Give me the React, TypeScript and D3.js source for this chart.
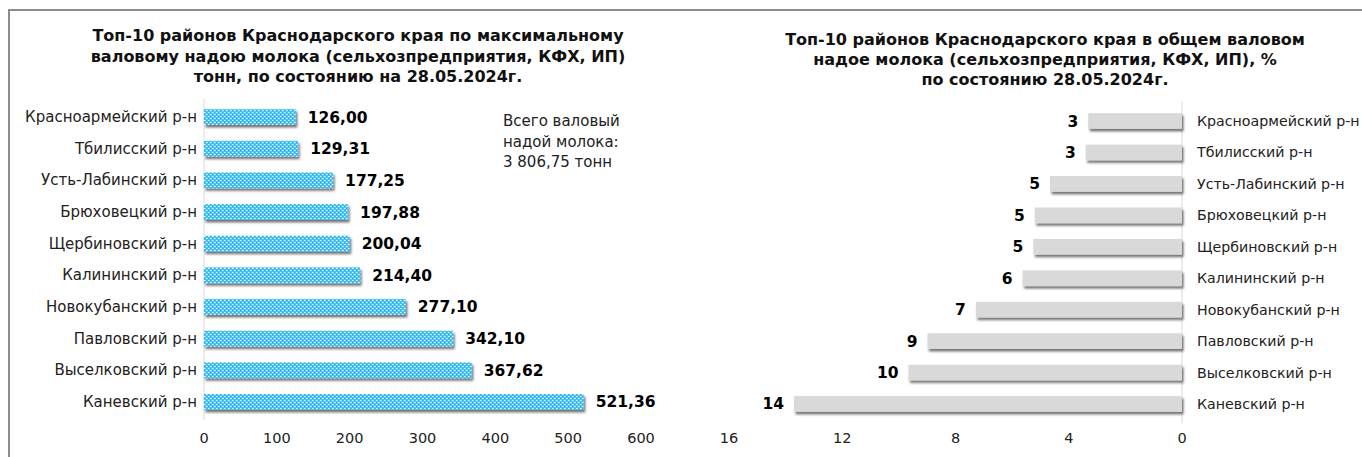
import React, { useEffect, useRef } from "react";
import * as d3 from "d3";

const districts = [
  "Красноармейский р-н",
  "Тбилисский р-н",
  "Усть-Лабинский р-н",
  "Брюховецкий р-н",
  "Щербиновский р-н",
  "Калининский р-н",
  "Новокубанский р-н",
  "Павловский р-н",
  "Выселковский р-н",
  "Каневский р-н",
];
const tons = [126.0, 129.31, 177.25, 197.88, 200.04, 214.4, 277.1, 342.1, 367.62, 521.36];
const shares = [3.31, 3.4, 4.66, 5.2, 5.25, 5.63, 7.28, 8.99, 9.66, 13.7];
const shareLabels = ["3", "3", "5", "5", "5", "6", "7", "9", "10", "14"];
const tonTicks = [0, 100, 200, 300, 400, 500, 600];
const shareTicks = [0, 4, 8, 12, 16];

const leftTitle = [
  "Топ-10 районов Краснодарского края по максимальному",
  "валовому надою молока (сельхозпредприятия, КФХ, ИП)",
  "тонн, по состоянию на 28.05.2024г.",
];
const rightTitle = [
  "Топ-10 районов Краснодарского края в общем валовом",
  "надое молока (сельхозпредприятия, КФХ, ИП), %",
  "по состоянию 28.05.2024г.",
];
const note = ["Всего валовый", "надой молока:", "3 806,75 тонн"];

const FONT = "'DejaVu Sans', Verdana, sans-serif";

export default function App() {
  const ref = useRef<SVGSVGElement>(null);

  useEffect(() => {
    const svg = d3.select(ref.current);
    svg.selectAll("*").remove();
    svg.style("font-family", FONT);

    const defs = svg.append("defs");
    // cross-hatch fill: blue base with white dots in a diamond grid
    const pat = defs.append("pattern")
      .attr("id", "hatch").attr("width", 4).attr("height", 4)
      .attr("patternUnits", "userSpaceOnUse");
    pat.append("rect").attr("width", 4).attr("height", 4).attr("fill", "#46c3f3");
    pat.append("rect").attr("x", 0).attr("y", 0).attr("width", 1).attr("height", 1).attr("fill", "#ffffff");
    pat.append("rect").attr("x", 2).attr("y", 2).attr("width", 1).attr("height", 1).attr("fill", "#ffffff");
    pat.append("rect").attr("x", 1).attr("y", 0).attr("width", 1).attr("height", 1).attr("fill", "#a8e3fa");
    pat.append("rect").attr("x", 3).attr("y", 2).attr("width", 1).attr("height", 1).attr("fill", "#a8e3fa");
    pat.append("rect").attr("x", 2).attr("y", 0).attr("width", 1).attr("height", 1).attr("fill", "#1aaee9");
    pat.append("rect").attr("x", 0).attr("y", 2).attr("width", 1).attr("height", 1).attr("fill", "#1aaee9");

    const flt = defs.append("filter").attr("id", "shadow")
      .attr("x", "-5%").attr("y", "-30%").attr("width", "115%").attr("height", "190%");
    flt.append("feDropShadow").attr("dx", 1.5).attr("dy", 2.5)
      .attr("stdDeviation", 1.2).attr("flood-color", "#000").attr("flood-opacity", 0.55);

    // frame
    svg.append("path").attr("d", "M9,457 V10 H1362")
      .attr("fill", "none").attr("stroke", "#8c8c8c").attr("stroke-width", 2);

    // ---------- left chart ----------
    const x1 = d3.scaleLinear().domain([0, 600]).range([204, 641]);
    const y1 = d3.scaleBand<string>().domain(districts).range([101.2, 417.8])
      .paddingInner(0.5).paddingOuter(0.25);

    svg.append("g").selectAll("text").data(leftTitle).join("text")
      .attr("x", 358).attr("y", (d, i) => 41 + i * 20.5)
      .attr("text-anchor", "middle").attr("font-size", 16).attr("font-weight", "bold")
      .attr("fill", "#111").text(d => d);

    svg.append("line").attr("x1", 204).attr("x2", 204).attr("y1", 99).attr("y2", 420)
      .attr("stroke", "#d9d9d9");

    svg.append("g").selectAll("rect").data(tons).join("rect")
      .attr("x", x1(0)).attr("y", (d, i) => y1(districts[i])!)
      .attr("width", d => x1(d) - x1(0)).attr("height", y1.bandwidth())
      .attr("fill", "url(#hatch)").attr("filter", "url(#shadow)");

    svg.append("g").selectAll("text").data(tons).join("text")
      .attr("x", d => x1(d) + 12).attr("y", (d, i) => y1(districts[i])! + y1.bandwidth() / 2 + 5.5)
      .attr("font-size", 15.5).attr("font-weight", "bold").attr("fill", "#000")
      .text(d => d3.format(".2f")(d).replace(".", ","));

    svg.append("g").selectAll("text").data(districts).join("text")
      .attr("x", 197).attr("y", d => y1(d)! + y1.bandwidth() / 2 + 5)
      .attr("text-anchor", "end").attr("font-size", 15).attr("fill", "#222").text(d => d);

    svg.append("g").selectAll("text").data(tonTicks).join("text")
      .attr("x", d => x1(d)).attr("y", 443)
      .attr("text-anchor", "middle").attr("font-size", 14.5).attr("fill", "#222").text(d => d);

    svg.append("g").selectAll("text").data(note).join("text")
      .attr("x", 503).attr("y", (d, i) => 126 + i * 20.5)
      .attr("font-size", 15).attr("fill", "#222").text(d => d);

    // ---------- right chart ----------
    const x2 = d3.scaleLinear().domain([0, 16]).range([1182, 729]);
    const y2 = d3.scaleBand<string>().domain(districts).range([105.3, 419.7])
      .paddingInner(0.5).paddingOuter(0.25);

    svg.append("g").selectAll("text").data(rightTitle).join("text")
      .attr("x", 1045).attr("y", (d, i) => 45 + i * 20)
      .attr("text-anchor", "middle").attr("font-size", 16).attr("font-weight", "bold")
      .attr("fill", "#111").text(d => d);

    svg.append("line").attr("x1", 1182).attr("x2", 1182).attr("y1", 102).attr("y2", 423)
      .attr("stroke", "#d9d9d9");

    svg.append("g").selectAll("rect").data(shares).join("rect")
      .attr("x", d => x2(d)).attr("y", (d, i) => y2(districts[i])!)
      .attr("width", d => x2(0) - x2(d)).attr("height", y2.bandwidth())
      .attr("fill", "#d9d9d9").attr("filter", "url(#shadow)");

    svg.append("g").selectAll("text").data(shares).join("text")
      .attr("x", d => x2(d) - 10).attr("y", (d, i) => y2(districts[i])! + y2.bandwidth() / 2 + 5.5)
      .attr("text-anchor", "end").attr("font-size", 15.5).attr("font-weight", "bold").attr("fill", "#000")
      .text((d, i) => shareLabels[i]);

    svg.append("g").selectAll("text").data(districts).join("text")
      .attr("x", 1197).attr("y", d => y2(d)! + y2.bandwidth() / 2 + 5)
      .attr("font-size", 14.2).attr("fill", "#222").text(d => d);

    svg.append("g").selectAll("text").data(shareTicks).join("text")
      .attr("x", d => x2(d)).attr("y", 443)
      .attr("text-anchor", "middle").attr("font-size", 14.5).attr("fill", "#222").text(d => d);
  }, []);

  return (
    <svg ref={ref} width={1362} height={457}
      style={{ position: "absolute", left: 0, top: 0, background: "#fff" }} />
  );
}
